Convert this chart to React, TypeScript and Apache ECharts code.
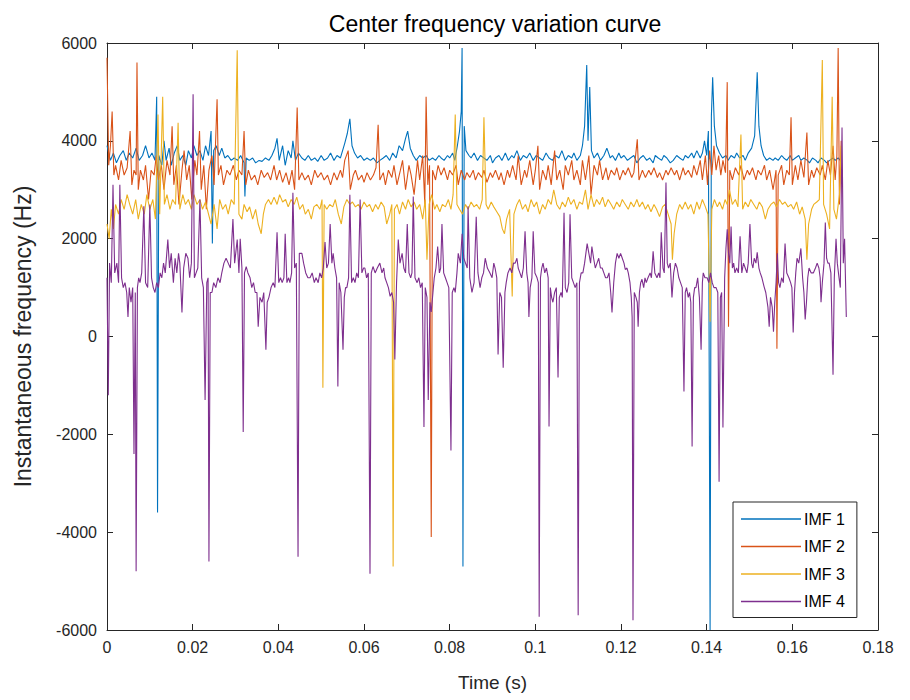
import React, { useEffect, useRef } from "react";
import * as echarts from "echarts";

const seriesNames = ["IMF 1", "IMF 2", "IMF 3", "IMF 4"];
const xTicks = [0, 0.02, 0.04, 0.06, 0.08, 0.1, 0.12, 0.14, 0.16, 0.18];
const yTicks = [-6000, -4000, -2000, 0, 2000, 4000, 6000];

const imf1: number[][] = [
  [0, 3900], [0.0008, 3600], [0.0015, 3750], [0.0022, 3550], [0.003, 3700], [0.0038, 3800], [0.0045, 3600], [0.0052, 3750],
  [0.006, 3650], [0.0068, 3850], [0.0075, 3600], [0.0083, 3700], [0.009, 3900], [0.0098, 3650], [0.0105, 3750], [0.0112, 3600],
  [0.0116, 4900], [0.0118, -3600], [0.0121, 3700], [0.0128, 3500], [0.0133, 4000], [0.0138, 3600], [0.0145, 3850], [0.015, 3500],
  [0.0157, 3750], [0.0164, 3900], [0.017, 3600], [0.0177, 3700], [0.0184, 3500], [0.019, 3800], [0.0197, 3650], [0.0203, 3900],
  [0.021, 3700], [0.0217, 3800], [0.0224, 3600], [0.023, 3900], [0.0237, 3700], [0.0243, 4200], [0.0246, 1900], [0.0249, 3800],
  [0.0255, 3900], [0.0262, 3700], [0.0268, 3850], [0.0275, 3650], [0.0282, 3700], [0.029, 3600], [0.0297, 3650], [0.0305, 3600],
  [0.0312, 3700], [0.032, 3550], [0.0322, 2860], [0.0325, 3650], [0.0332, 3600], [0.034, 3650], [0.0347, 3550], [0.0355, 3600],
  [0.0362, 3580], [0.037, 3650], [0.0378, 3600], [0.0385, 3700], [0.0392, 3850], [0.0397, 4050], [0.0402, 3600], [0.041, 3900],
  [0.0416, 3500], [0.0423, 3800], [0.043, 3650], [0.0434, 4000], [0.044, 3600], [0.0447, 3750], [0.0455, 3650], [0.0462, 3600],
  [0.047, 3700], [0.0477, 3600], [0.0485, 3650], [0.0492, 3580], [0.05, 3700], [0.0507, 3600], [0.0515, 3650], [0.0522, 3750],
  [0.053, 3600], [0.0537, 3700], [0.0545, 3650], [0.055, 3800], [0.0555, 3950], [0.0561, 4150], [0.0567, 4450], [0.0572, 3900],
  [0.0578, 3750], [0.0585, 3650], [0.0592, 3700], [0.06, 3600], [0.0607, 3650], [0.0615, 3600], [0.0622, 3650], [0.063, 3550],
  [0.0637, 3600], [0.0645, 3650], [0.0652, 3700], [0.066, 3600], [0.0667, 3750], [0.0675, 3650], [0.0682, 3900], [0.069, 3800],
  [0.0697, 4050], [0.0702, 4200], [0.0708, 3850], [0.0715, 3700], [0.0722, 3600], [0.073, 3700], [0.0737, 3650], [0.0745, 3700],
  [0.0752, 3600], [0.076, 3650], [0.0767, 3600], [0.0775, 3700], [0.078, 3650], [0.0787, 3600], [0.0795, 3700], [0.08, 3650],
  [0.0807, 3750], [0.0812, 3600], [0.0818, 3900], [0.0823, 4200], [0.0827, 4600], [0.0829, 5900], [0.0831, -4700], [0.0834, 4300],
  [0.0838, 3800], [0.0845, 3700], [0.085, 3650], [0.0857, 3750], [0.0865, 3600], [0.0872, 3700], [0.088, 3650], [0.0887, 3600],
  [0.0895, 3700], [0.09, 3550], [0.0907, 3650], [0.0915, 3700], [0.0922, 3600], [0.093, 3750], [0.0937, 3600], [0.0945, 3700],
  [0.095, 3650], [0.0957, 3800], [0.0965, 3600], [0.0972, 3700], [0.098, 3650], [0.0987, 3750], [0.0995, 3600], [0.1002, 3700],
  [0.101, 3650], [0.1017, 3600], [0.1025, 3750], [0.1032, 3650], [0.104, 3600], [0.1047, 3700], [0.1055, 3650], [0.1062, 3800],
  [0.107, 3600], [0.1077, 3700], [0.1085, 3650], [0.109, 3750], [0.1097, 3600], [0.1105, 3700], [0.111, 3900], [0.1115, 4300],
  [0.112, 5550], [0.1123, 4000], [0.1127, 5100], [0.1131, 3800], [0.1137, 3650], [0.1145, 3750], [0.1152, 3600], [0.116, 3700],
  [0.1167, 3850], [0.1175, 3650], [0.118, 3700], [0.1187, 3600], [0.1195, 3750], [0.12, 3650], [0.1207, 3700], [0.1215, 3600],
  [0.1222, 3650], [0.123, 3700], [0.1237, 3550], [0.1245, 3650], [0.1252, 3700], [0.126, 3600], [0.1267, 3650], [0.1275, 3550],
  [0.128, 3700], [0.1287, 3650], [0.1295, 3600], [0.13, 3700], [0.1307, 3650], [0.1315, 3550], [0.1322, 3600], [0.133, 3700],
  [0.1337, 3650], [0.1345, 3600], [0.135, 3700], [0.1357, 3650], [0.1365, 3750], [0.137, 3650], [0.1377, 3800], [0.1385, 3650],
  [0.139, 3750], [0.1395, 4000], [0.14, 3700], [0.1404, 4200], [0.1408, -6000], [0.1411, 4500], [0.1414, 5300], [0.1418, 4300],
  [0.1423, 3900], [0.143, 3750], [0.1437, 3650], [0.1445, 3700], [0.145, 3600], [0.1457, 3700], [0.1465, 3650], [0.147, 3750],
  [0.1477, 3650], [0.1485, 3700], [0.149, 3600], [0.1497, 3750], [0.1505, 3850], [0.1512, 4100], [0.1518, 5400], [0.1522, 4300],
  [0.1527, 3900], [0.1533, 3700], [0.154, 3600], [0.1547, 3650], [0.1555, 3600], [0.156, 3650], [0.1567, 3600], [0.1575, 3700],
  [0.158, 3650], [0.1587, 3600], [0.1595, 3700], [0.16, 3600], [0.1607, 3650], [0.1615, 3700], [0.162, 3600], [0.1627, 3650],
  [0.1635, 3600], [0.164, 3550], [0.1647, 3650], [0.1655, 3600], [0.166, 3550], [0.1667, 3650], [0.1675, 3600], [0.168, 3550],
  [0.1687, 3600], [0.1695, 3650], [0.17, 3600], [0.1707, 3650], [0.1712, 3600],
];

const imf2: number[][] = [
  [0, 5700], [0.0004, 3500], [0.0008, 3900], [0.0012, 4600], [0.0016, 3300], [0.002, 3500], [0.0027, 3200], [0.0033, 3600],
  [0.004, 3300], [0.0047, 3450], [0.0054, 4200], [0.0058, 3100], [0.0063, 3400], [0.0068, 3300], [0.007, 5600], [0.0073, 3000],
  [0.0078, 3400], [0.0085, 3200], [0.009, 3500], [0.0097, 2800], [0.0103, 3400], [0.011, 3300], [0.0115, 3700], [0.012, 3200],
  [0.0127, 3500], [0.0133, 3000], [0.014, 3600], [0.0147, 3300], [0.0152, 4300], [0.0156, 3100], [0.0162, 3500], [0.0168, 2700],
  [0.0175, 3400], [0.018, 3800], [0.0186, 3200], [0.0192, 3500], [0.0198, 2800], [0.0205, 3600], [0.021, 3300], [0.0216, 4200],
  [0.022, 3000], [0.0226, 3500], [0.0232, 2600], [0.0238, 3400], [0.0245, 3700], [0.025, 3100], [0.0257, 4850], [0.026, 3300],
  [0.0266, 3500], [0.0272, 3100], [0.028, 3400], [0.0287, 3300], [0.0295, 3500], [0.0302, 3200], [0.0308, 3400], [0.0315, 3300],
  [0.032, 4200], [0.0324, 3100], [0.033, 3400], [0.0337, 3200], [0.0345, 3300], [0.0352, 3100], [0.036, 3400], [0.0367, 3250],
  [0.0375, 3350], [0.0382, 3200], [0.039, 3500], [0.0396, 3200], [0.0403, 3400], [0.041, 3150], [0.0418, 3350], [0.0425, 3100],
  [0.0432, 3400], [0.0438, 3000], [0.0444, 4680], [0.0448, 3200], [0.0455, 3350], [0.0462, 3200], [0.047, 3300], [0.0477, 3100],
  [0.0485, 3400], [0.0492, 3250], [0.05, 3350], [0.0507, 3200], [0.0515, 3300], [0.0522, 3100], [0.053, 3350], [0.0537, 3200],
  [0.0545, 3400], [0.055, 3250], [0.0555, 3600], [0.0563, 3800], [0.0568, 3000], [0.0575, 3300], [0.058, 3400], [0.0587, 3200],
  [0.0595, 3300], [0.06, 3150], [0.0607, 3350], [0.0615, 3200], [0.0622, 3300], [0.0628, 3450], [0.0633, 4330], [0.0637, 3200],
  [0.0645, 3350], [0.065, 3100], [0.0657, 3400], [0.0665, 3250], [0.067, 3500], [0.0677, 3100], [0.0685, 3400], [0.069, 3600],
  [0.0697, 3000], [0.0705, 3500], [0.071, 3300], [0.0717, 2900], [0.0725, 3600], [0.073, 3200], [0.0737, 3700], [0.0742, 2700],
  [0.0745, 4900], [0.0749, 3100], [0.0753, 3500], [0.0757, -4100], [0.076, 3400], [0.0767, 3200], [0.0773, 3500], [0.078, 3300],
  [0.0787, 3450], [0.0795, 3200], [0.08, 3400], [0.0807, 3300], [0.0815, 3500], [0.082, 3100], [0.0827, 3400], [0.0835, 3200],
  [0.084, 3350], [0.0847, 3250], [0.0855, 3400], [0.086, 3200], [0.0867, 3350], [0.0875, 3250], [0.088, 3400], [0.0887, 3150],
  [0.0895, 3350], [0.09, 3250], [0.0907, 3400], [0.0915, 3200], [0.092, 3350], [0.0927, 3100], [0.0935, 3400], [0.094, 3250],
  [0.0947, 3500], [0.0955, 3200], [0.096, 3700], [0.0967, 3100], [0.0975, 3400], [0.098, 3250], [0.0987, 3600], [0.0995, 3100],
  [0.1, 3400], [0.1006, 3900], [0.101, 3000], [0.1017, 3400], [0.1025, 3200], [0.103, 3500], [0.1037, 3100], [0.1045, 3800],
  [0.105, 3200], [0.1057, 3400], [0.1065, 3000], [0.107, 3500], [0.1077, 3300], [0.1085, 3600], [0.109, 3200], [0.1097, 3400],
  [0.1105, 3100], [0.111, 3600], [0.1117, 3200], [0.1125, 3700], [0.113, 2900], [0.1137, 3500], [0.1145, 3300], [0.115, 3600],
  [0.1157, 3200], [0.1165, 3450], [0.117, 3200], [0.1177, 3400], [0.1185, 3300], [0.119, 3450], [0.1197, 3200], [0.1205, 3400],
  [0.121, 3300], [0.1217, 3450], [0.1225, 3250], [0.123, 3350], [0.1238, 4030], [0.1242, 3200], [0.125, 3400], [0.1257, 3250],
  [0.1265, 3400], [0.127, 3300], [0.1277, 3450], [0.1285, 3250], [0.129, 3350], [0.1297, 3200], [0.1305, 3400], [0.131, 3300],
  [0.1317, 3450], [0.1325, 3300], [0.133, 3400], [0.1337, 3200], [0.1345, 3450], [0.135, 3300], [0.1357, 3400], [0.1365, 3250],
  [0.137, 3500], [0.1377, 3300], [0.1385, 3600], [0.139, 3200], [0.1397, 3700], [0.1402, 3100], [0.1407, 3800], [0.1412, 3300],
  [0.1417, 3900], [0.1422, 3400], [0.1428, 3700], [0.1433, 3300], [0.1438, 3600], [0.1444, 3350], [0.1448, 5200], [0.1451, 200],
  [0.1454, 3400], [0.146, 3200], [0.1467, 3450], [0.1475, 3300], [0.148, 3500], [0.1487, 3200], [0.1495, 3400], [0.15, 3300],
  [0.1507, 3450], [0.1515, 3200], [0.152, 3400], [0.1527, 3300], [0.1535, 3500], [0.154, 3200], [0.1547, 3400], [0.1555, 3000],
  [0.1562, 3400], [0.1564, -250], [0.1567, 3300], [0.1575, 3500], [0.158, 3100], [0.1587, 3400], [0.1593, 3300], [0.1597, 4480],
  [0.16, 3100], [0.1607, 3500], [0.1613, 3200], [0.162, 3600], [0.1627, 3250], [0.1634, 4170], [0.1638, 3100], [0.1645, 3400],
  [0.165, 3250], [0.1657, 3450], [0.1665, 3300], [0.167, 3500], [0.1677, 3200], [0.1683, 3600], [0.1689, 3300], [0.1695, 3900],
  [0.17, 3200], [0.1704, 3700], [0.1707, 5900], [0.171, 2700], [0.1714, 4000],
];

const imf3: number[][] = [
  [0, 2300], [0.0005, 2000], [0.001, 2600], [0.0015, 2200], [0.002, 2700], [0.0027, 2500], [0.0033, 2800], [0.004, 2600],
  [0.0047, 2900], [0.0053, 2700], [0.006, 2500], [0.0067, 2800], [0.0073, 2400], [0.008, 2700], [0.0087, 2500], [0.0093, 2900],
  [0.01, 2600], [0.0107, 2800], [0.0113, 2400], [0.0119, 4540], [0.0123, 2500], [0.013, 4900], [0.0134, 2700], [0.014, 2900],
  [0.0147, 2600], [0.0153, 2800], [0.016, 2700], [0.0166, 4370], [0.017, 2600], [0.0177, 2900], [0.0183, 2700], [0.019, 2800],
  [0.0197, 2600], [0.0203, 2900], [0.021, 2700], [0.0217, 2800], [0.0223, 2600], [0.023, 2750], [0.0237, 2500], [0.0243, 2300],
  [0.025, 2700], [0.0257, 2200], [0.0263, 2800], [0.027, 2600], [0.0277, 2700], [0.0283, 2500], [0.029, 2800], [0.0297, 2700],
  [0.0304, 5850], [0.0308, 2500], [0.0315, 2400], [0.032, 2700], [0.0327, 2550], [0.0333, 2650], [0.034, 2400], [0.0347, 2600],
  [0.0353, 2300], [0.036, 2100], [0.0365, 2500], [0.037, 2700], [0.0377, 2800], [0.0383, 2700], [0.039, 2850], [0.0397, 2700],
  [0.0403, 2900], [0.041, 2750], [0.0417, 2800], [0.0423, 2650], [0.043, 2800], [0.0437, 2700], [0.0443, 2850], [0.045, 2600],
  [0.0457, 2700], [0.0463, 2500], [0.047, 2600], [0.0477, 2400], [0.0483, 2650], [0.049, 2700], [0.0497, 2600], [0.0502, 2800],
  [0.0504, -1050], [0.0507, 2700], [0.0513, 2600], [0.052, 2700], [0.0527, 2650], [0.0533, 2800], [0.054, 2500], [0.0547, 2300],
  [0.0553, 2650], [0.056, 2800], [0.0567, 2700], [0.0573, 2750], [0.058, 2650], [0.0587, 2700], [0.0593, 2600], [0.06, 2750],
  [0.0607, 2650], [0.0613, 2700], [0.062, 2550], [0.0627, 2700], [0.0633, 2600], [0.064, 2750], [0.0647, 2650], [0.0653, 2300],
  [0.066, 2500], [0.0665, 2700], [0.0668, -4700], [0.0671, 2600], [0.0677, 2700], [0.0683, 2500], [0.069, 2750], [0.0697, 2600],
  [0.0703, 2800], [0.071, 2650], [0.0717, 2750], [0.0723, 2600], [0.073, 2700], [0.0737, 2400], [0.0743, 2800], [0.0747, 1570],
  [0.0752, 2700], [0.0758, 2900], [0.0765, 2600], [0.077, 2700], [0.0777, 2550], [0.0783, 2700], [0.079, 2650], [0.0797, 2800],
  [0.0803, 2600], [0.0808, 2900], [0.0813, 4540], [0.0817, 2700], [0.0823, 2600], [0.083, 2500], [0.0837, 2700], [0.0843, 2600],
  [0.085, 2750], [0.0857, 2650], [0.0863, 2700], [0.087, 2600], [0.0876, 2800], [0.088, 4480], [0.0885, 2700], [0.089, 2600],
  [0.0897, 2750], [0.0903, 2650], [0.091, 2550], [0.0917, 2450], [0.0923, 2200], [0.0928, 2100], [0.0933, 2400], [0.094, 2600],
  [0.0946, 820], [0.095, 2500], [0.0957, 2700], [0.0963, 2800], [0.097, 2600], [0.0977, 2700], [0.0983, 2550], [0.099, 2800],
  [0.0997, 2650], [0.1003, 2750], [0.101, 2500], [0.1017, 2700], [0.1023, 2600], [0.103, 2800], [0.1037, 2700], [0.1043, 3000],
  [0.105, 2700], [0.1057, 2600], [0.1063, 2750], [0.107, 2650], [0.1077, 2850], [0.1083, 2700], [0.109, 2800], [0.1097, 2600],
  [0.1103, 2750], [0.111, 2700], [0.1117, 3000], [0.1123, 2600], [0.113, 2900], [0.1137, 2650], [0.1143, 2800], [0.115, 2700],
  [0.1157, 2850], [0.1163, 2650], [0.117, 2800], [0.1177, 2700], [0.1183, 2600], [0.119, 2750], [0.1197, 2650], [0.1203, 2800],
  [0.121, 2700], [0.1217, 2600], [0.1223, 2750], [0.123, 2650], [0.1237, 2800], [0.1243, 2650], [0.125, 2750], [0.1257, 2600],
  [0.1263, 2700], [0.127, 2550], [0.1277, 2700], [0.1283, 2600], [0.129, 2450], [0.1297, 2650], [0.1303, 2700], [0.131, 2500],
  [0.1317, 2300], [0.132, 1570], [0.1324, 2100], [0.133, 2500], [0.1337, 2700], [0.1343, 2600], [0.135, 2750], [0.1357, 2600],
  [0.1363, 2700], [0.137, 2500], [0.1377, 2750], [0.1383, 2600], [0.139, 2800], [0.1397, 2650], [0.1403, 2500], [0.1408, 300],
  [0.1412, 2600], [0.1418, 2800], [0.1425, 2650], [0.143, 2750], [0.1437, 2600], [0.1443, 2800], [0.1448, 2700], [0.1453, 3000],
  [0.146, 2700], [0.1467, 2800], [0.1473, 2650], [0.148, 4130], [0.1484, 2600], [0.149, 2750], [0.1497, 2650], [0.1503, 2800],
  [0.151, 2700], [0.1517, 2600], [0.1523, 2750], [0.153, 2650], [0.1537, 2400], [0.1543, 2600], [0.155, 2700], [0.1557, 2750],
  [0.1563, 2650], [0.157, 2800], [0.1577, 2700], [0.1583, 2750], [0.159, 2650], [0.1597, 2700], [0.1603, 2600], [0.161, 2750],
  [0.1617, 2500], [0.1623, 2650], [0.163, 2400], [0.1634, 1570], [0.1638, 2300], [0.1645, 2600], [0.165, 2700], [0.1657, 2750],
  [0.1663, 2800], [0.167, 5650], [0.1673, 2700], [0.168, 2500], [0.1687, 2200], [0.1693, 4900], [0.1697, 2600], [0.1703, 2400],
  [0.171, 2900], [0.1714, 3900],
];

const imf4: number[][] = [
  [0, 1200], [0.0003, -1200], [0.0006, 1500], [0.001, 1100], [0.0014, 3100], [0.0018, 1300], [0.0023, 1500], [0.0027, 1100],
  [0.003, 3100], [0.0034, 1200], [0.0038, 1000], [0.0042, 1100], [0.0046, 900], [0.0049, 400], [0.0052, 1000], [0.0056, 700],
  [0.006, 1000], [0.0063, -2400], [0.0066, 900], [0.0068, -4800], [0.0071, 1000], [0.0074, 1200], [0.0077, 1100], [0.0081, 1300],
  [0.0086, 2660], [0.009, 1100], [0.0095, 1000], [0.01, 2700], [0.0104, 1200], [0.0108, 1000], [0.0112, 900], [0.0116, 1100],
  [0.012, 1000], [0.0124, 1300], [0.0128, 1200], [0.0132, 1500], [0.0136, 1300], [0.0142, 1980], [0.0146, 1400], [0.015, 1700],
  [0.0155, 1100], [0.0159, 1600], [0.0163, 1300], [0.0167, 1700], [0.017, 1500], [0.0175, 490], [0.0179, 1400], [0.0184, 1700],
  [0.0189, 1600], [0.0193, 1200], [0.0197, 1500], [0.0201, 4950], [0.0204, 1200], [0.0208, 1300], [0.0212, 1400], [0.0217, 2800],
  [0.0221, 1200], [0.0225, 1000], [0.0229, -1300], [0.0233, 1100], [0.0236, 1200], [0.0238, -4600], [0.0241, 900], [0.0245, 900],
  [0.0249, 1100], [0.0254, 1000], [0.0259, 1200], [0.0264, 1100], [0.0268, 1300], [0.0273, 1500], [0.0278, 1600], [0.0283, 1500],
  [0.0288, 1400], [0.0294, 2400], [0.0298, 1500], [0.0304, 1980], [0.0308, 1300], [0.0311, 2000], [0.0315, 1400], [0.0318, -1950],
  [0.0321, 1300], [0.0325, 1430], [0.0329, 1300], [0.0334, 1200], [0.0338, 1000], [0.0342, 1100], [0.0346, 900], [0.035, 900],
  [0.0353, 200], [0.0357, 800], [0.0362, 700], [0.0366, 900], [0.0371, -270], [0.0374, 700], [0.0378, 800], [0.0383, 1000],
  [0.0388, 1100], [0.0392, 1000], [0.0397, 2130], [0.0401, 1100], [0.0405, 1200], [0.0409, 1100], [0.0413, 1200], [0.0416, 2100],
  [0.042, 1100], [0.0424, 1200], [0.0427, 1100], [0.0431, 1300], [0.0434, 2940], [0.0438, 1400], [0.0442, 1500], [0.0446, -4500],
  [0.0449, 1700], [0.0455, 1700], [0.0459, 1500], [0.0464, 1300], [0.0469, 1200], [0.0474, 1200], [0.0479, 1300], [0.0484, 1100],
  [0.0488, 1200], [0.0493, 1100], [0.0497, 1300], [0.0501, 1200], [0.0505, 1400], [0.0509, 1930], [0.0513, 1400], [0.0517, 1500],
  [0.0521, 2300], [0.0525, 1500], [0.0528, 1700], [0.0532, 1400], [0.0536, 1200], [0.0539, -1020], [0.0542, 1100], [0.0546, 900],
  [0.0551, -270], [0.0554, 800], [0.0557, 1000], [0.056, 1000], [0.0564, 1200], [0.0567, 2900], [0.0571, 1100], [0.0575, 1200],
  [0.0579, 1100], [0.0583, 1300], [0.0587, 1200], [0.0591, 2800], [0.0595, 1300], [0.0599, 1400], [0.0602, 1400], [0.0606, 1200],
  [0.061, 1300], [0.0614, -4850], [0.0617, 1300], [0.0621, 1430], [0.0626, 1300], [0.0631, 1400], [0.0637, 1500], [0.0642, 1300],
  [0.0646, 1400], [0.0649, 1200], [0.0653, 1100], [0.0657, 1000], [0.0661, 820], [0.0665, 900], [0.0669, 700], [0.0672, -470],
  [0.0676, 1100], [0.068, 1980], [0.0684, 1500], [0.0689, 1700], [0.0693, 1400], [0.0697, 1300], [0.0701, 2300], [0.0705, 1300],
  [0.0709, 1200], [0.0712, 1300], [0.0715, 2860], [0.0719, 1200], [0.0724, 1100], [0.0728, 1200], [0.0732, 1000], [0.0736, 1100],
  [0.074, -1850], [0.0743, 1000], [0.0747, 800], [0.075, -1300], [0.0754, 700], [0.0757, 500], [0.0761, 900], [0.0764, 1200],
  [0.0768, 1400], [0.0772, 1840], [0.0776, 1300], [0.0779, 1400], [0.0782, 2300], [0.0786, 1300], [0.079, 1200], [0.0794, 1100],
  [0.0798, 1000], [0.0803, -2330], [0.0806, 900], [0.081, 1000], [0.0813, 900], [0.0817, 1300], [0.082, 1700], [0.0825, 1500],
  [0.0829, 2100], [0.0833, 1600], [0.0837, 1500], [0.0841, 1400], [0.0843, 2660], [0.0847, 1200], [0.0852, 900], [0.0857, 1100],
  [0.0862, 2450], [0.0866, 1300], [0.0871, 1000], [0.0875, 1200], [0.0879, 1300], [0.0883, 1600], [0.0888, 1400], [0.0894, 1300],
  [0.0899, 1200], [0.0903, 1500], [0.0906, 1400], [0.091, 1200], [0.0913, -370], [0.0917, 900], [0.0921, 800], [0.0925, -640],
  [0.0929, 900], [0.0932, 1100], [0.0936, 1300], [0.0941, 1400], [0.0945, 1300], [0.0949, 1500], [0.0953, 1500], [0.0957, 1600],
  [0.096, 1400], [0.0964, 1300], [0.0968, 1200], [0.0972, 1400], [0.0976, 2150], [0.098, 1300], [0.0983, 1100], [0.0985, 400],
  [0.0988, 1000], [0.0992, 1200], [0.0995, 2150], [0.0999, 1300], [0.1004, 1200], [0.1007, 1100], [0.1009, -5730], [0.1012, 1200],
  [0.1015, 1400], [0.1018, 1500], [0.1022, 1300], [0.1026, 1400], [0.103, 1200], [0.1032, -1840], [0.1035, 1000], [0.1038, 800],
  [0.1041, 700], [0.1045, 900], [0.1049, 1000], [0.1053, -840], [0.1056, 800], [0.106, 900], [0.1063, 800], [0.1067, 2530],
  [0.107, 1000], [0.1074, 900], [0.1078, 1100], [0.1081, 2500], [0.1085, 1200], [0.1089, 1100], [0.1093, 1000], [0.1097, 1100],
  [0.11, -5700], [0.1103, 1100], [0.1107, 1300], [0.1111, 1300], [0.1115, 1500], [0.1118, 1700], [0.1121, 1900], [0.1125, 1700],
  [0.1129, 1500], [0.1132, 1840], [0.1136, 1600], [0.114, 1400], [0.1144, 1500], [0.1148, 1600], [0.1152, 1400], [0.1156, 1400],
  [0.116, 1300], [0.1164, 1200], [0.1168, 1200], [0.1172, 1300], [0.1176, 900], [0.1179, 490], [0.1183, 1100], [0.1187, 1500],
  [0.1191, 1700], [0.1195, 1600], [0.1199, 1700], [0.1203, 1600], [0.1207, 1500], [0.121, 1370], [0.1214, 1400], [0.1217, 1300],
  [0.1221, 1100], [0.1224, 800], [0.1226, 400], [0.1228, -5800], [0.1231, 900], [0.1235, 800], [0.1238, 700], [0.124, 200],
  [0.1243, 900], [0.1246, 1100], [0.1249, 1170], [0.1253, 1000], [0.1256, 1200], [0.1259, 1100], [0.1263, 1200], [0.1268, 1300],
  [0.1271, 1200], [0.1275, 1740], [0.1279, 1300], [0.1284, 1200], [0.1288, 1300], [0.1291, 1200], [0.1294, 2130], [0.1298, 1400],
  [0.1301, 1300], [0.1305, 3150], [0.1308, 1500], [0.1311, 1400], [0.1315, 1500], [0.1319, 800], [0.1323, 1300], [0.1327, 1500],
  [0.1331, 1400], [0.1335, 1200], [0.1339, 1100], [0.1343, 1000], [0.1347, -1125], [0.135, 900], [0.1353, 1000], [0.1357, 800],
  [0.136, 900], [0.1363, 700], [0.1366, -2250], [0.1369, 800], [0.1372, 1000], [0.1375, 1000], [0.1379, 1200], [0.1383, 800],
  [0.1387, -270], [0.139, 1100], [0.1392, 1300], [0.1396, 1200], [0.1401, 1200], [0.1405, 1100], [0.1409, 1300], [0.1413, 1100],
  [0.1417, 1000], [0.1422, 1000], [0.1426, 900], [0.1429, -2970], [0.1432, 800], [0.1435, 900], [0.1438, -1860], [0.1442, 1200],
  [0.1445, 1800], [0.1448, 2190], [0.1451, 1700], [0.1454, 1500], [0.1457, 2250], [0.146, 1400], [0.1463, 1500], [0.1466, 1300],
  [0.147, 1400], [0.1474, 1300], [0.1478, 2050], [0.1482, 1300], [0.1486, 1500], [0.149, 1400], [0.1494, 1300], [0.1497, 1500],
  [0.1501, 2300], [0.1505, 1500], [0.1508, 1400], [0.1511, 1600], [0.1515, 1500], [0.1518, 1720], [0.1522, 1400], [0.1525, 1300],
  [0.1529, 1200], [0.1534, 1020], [0.1538, 900], [0.1543, 600], [0.1546, 200], [0.1549, 800], [0.1553, 600], [0.1556, 100],
  [0.1559, 700], [0.1562, 1100], [0.1565, 1700], [0.1568, 1100], [0.1571, 1000], [0.1575, 1200], [0.1579, 1100], [0.1583, 1900],
  [0.1587, 1300], [0.1592, 1200], [0.1596, 1100], [0.1599, 1000], [0.1602, 80], [0.1605, 900], [0.1608, 1300], [0.1611, 1600],
  [0.1615, 1500], [0.162, 1800], [0.1624, 1200], [0.1627, 900], [0.163, 350], [0.1633, 700], [0.1636, 1200], [0.1639, 1400],
  [0.1644, 1300], [0.1649, 1300], [0.1654, 1400], [0.1658, 1500], [0.1662, 1400], [0.1665, 1200], [0.1667, 700], [0.167, 1100],
  [0.1674, 1500], [0.1677, 2330], [0.168, 1600], [0.1683, 1500], [0.1686, 1500], [0.169, 1300], [0.1695, -780], [0.1698, 1200],
  [0.1702, 2000], [0.1705, 1500], [0.1709, 1200], [0.1712, 1000], [0.1716, 4270], [0.1719, 1500], [0.1722, 2000], [0.1726, 400],
];

const seriesData = [imf1, imf2, imf3, imf4];
const colors = ["#0072BD", "#D95319", "#EDB120", "#7E2F8E"];

const FONT = "Liberation Sans, Arial, Helvetica, sans-serif";
const AX = "#262626";

export default function App() {
  const ref = useRef<HTMLDivElement>(null);
  useEffect(() => {
    if (!ref.current) return;
    const chart = echarts.init(ref.current, undefined, { renderer: "svg" });
    const fmtX = (v: number) => String(+v.toFixed(2));
    const fmtY = (v: number) => String(Math.round(v));
    const axisLine = { show: true, onZero: false, lineStyle: { color: AX, width: 1 } };
    const tick = { show: true, inside: true, length: 6, lineStyle: { color: AX } };
    chart.setOption({
      animation: false,
      backgroundColor: "#ffffff",
      textStyle: { fontFamily: FONT },
      title: {
        text: "Center frequency variation curve",
        left: 490,
        top: 7,
        textAlign: "center",
        textStyle: { fontFamily: FONT, fontSize: 23, fontWeight: "normal", color: "#000" },
      },
      grid: { left: 107, right: 32, top: 43, bottom: 70, containLabel: false },
      legend: {
        data: seriesNames,
        orient: "vertical",
        left: 733,
        top: 502,
        width: 132,
        icon: "rect",
        itemWidth: 60,
        itemHeight: 1.5,
        itemGap: 11.5,
        padding: [9, 12, 8, 8],
        borderColor: AX,
        borderWidth: 1,
        borderRadius: 0,
        backgroundColor: "#ffffff",
        textStyle: { fontFamily: FONT, fontSize: 16, color: "#000", padding: [0, 0, 0, -2] },
      },
      xAxis: [
        {
          type: "value",
          min: xTicks[0],
          max: xTicks[xTicks.length - 1],
          interval: 0.02,
          position: "bottom",
          name: "Time (s)",
          nameLocation: "middle",
          nameGap: 43,
          nameTextStyle: { fontFamily: FONT, fontSize: 19, color: AX },
          axisLine,
          axisTick: tick,
          axisLabel: { formatter: fmtX, fontFamily: FONT, fontSize: 16, color: AX, margin: 9 },
          splitLine: { show: false },
        },
        {
          type: "value",
          min: xTicks[0],
          max: xTicks[xTicks.length - 1],
          interval: 0.02,
          position: "top",
          axisLine,
          axisTick: tick,
          axisLabel: { show: false },
          splitLine: { show: false },
        },
      ],
      yAxis: [
        {
          type: "value",
          min: yTicks[0],
          max: yTicks[yTicks.length - 1],
          interval: 2000,
          position: "left",
          name: "Instantaneous frequency (Hz)",
          nameLocation: "middle",
          nameGap: 73,
          nameTextStyle: { fontFamily: FONT, fontSize: 23, color: AX },
          axisLine,
          axisTick: tick,
          axisLabel: { formatter: fmtY, fontFamily: FONT, fontSize: 16, color: AX, margin: 10 },
          splitLine: { show: false },
        },
        {
          type: "value",
          min: yTicks[0],
          max: yTicks[yTicks.length - 1],
          interval: 2000,
          position: "right",
          axisLine,
          axisTick: tick,
          axisLabel: { show: false },
          splitLine: { show: false },
        },
      ],
      series: seriesNames.map((name, i) => ({
        name,
        type: "line",
        xAxisIndex: 0,
        yAxisIndex: 0,
        data: seriesData[i],
        showSymbol: false,
        symbol: "none",
        clip: true,
        color: colors[i],
        lineStyle: { color: colors[i], width: 1.1 },
        emphasis: { disabled: true },
      })),
    });
    return () => chart.dispose();
  }, []);
  return (
    <div
      ref={ref}
      style={{ position: "absolute", left: 0, top: 0, width: 910, height: 700 }}
    />
  );
}
